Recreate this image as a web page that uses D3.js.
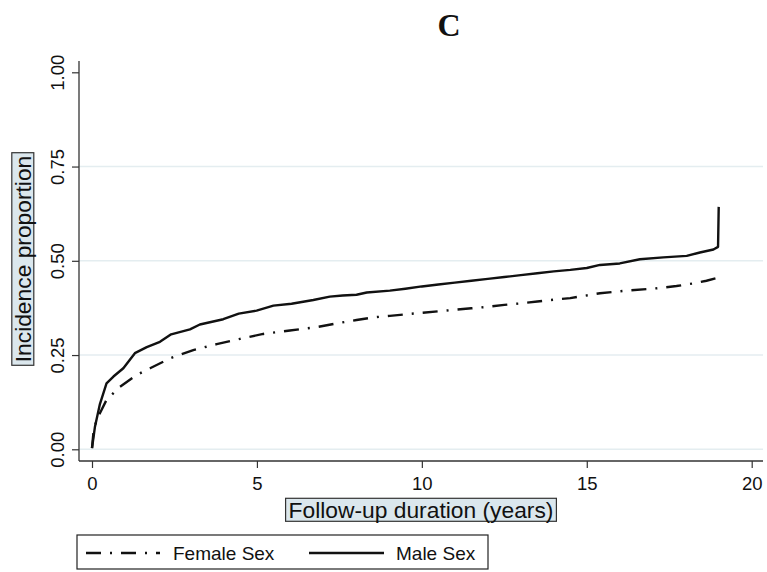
<!DOCTYPE html>
<html>
<head>
<meta charset="utf-8">
<script src="https://cdn.jsdelivr.net/npm/d3@7"></script>
<style>
  body { margin: 0; background: #fff; }
  svg { display: block; }
</style>
</head>
<body>
<svg id="chart" width="767" height="572"></svg>
<script>
// Cumulative incidence by sex over follow-up
const maleTime = [0, 0.09, 0.24, 0.44, 0.65, 0.95, 1.30, 1.66, 2.06, 2.40, 2.97, 3.27, 3.98, 4.45, 4.99, 5.5, 6.05, 6.71, 7.21, 7.6, 8.02, 8.33, 9.03, 9.5, 10, 10.5, 11, 11.5, 12, 12.5, 13, 13.5, 14, 14.5, 15, 15.4, 16.0, 16.61, 17.32, 18.03, 18.43, 18.84, 18.98, 19.0];
const maleValue = [0.003, 0.06, 0.12, 0.175, 0.193, 0.215, 0.255, 0.271, 0.285, 0.305, 0.318, 0.331, 0.345, 0.36, 0.368, 0.381, 0.386, 0.396, 0.405, 0.408, 0.41, 0.416, 0.421, 0.426, 0.432, 0.437, 0.442, 0.447, 0.452, 0.457, 0.462, 0.467, 0.472, 0.476, 0.481, 0.489, 0.493, 0.504, 0.509, 0.513, 0.522, 0.53, 0.537, 0.643];

const femaleTime = [0, 0.05, 0.14, 0.44, 0.85, 1.35, 1.76, 2.36, 3.07, 3.78, 4.49, 5.19, 6.0, 6.81, 7.42, 8.02, 8.53, 9.03, 9.5, 10, 10.5, 11, 11.5, 12, 12.5, 13, 13.5, 14, 14.5, 15.4, 16.21, 17.12, 17.72, 18.23, 18.63, 19.02];
const femaleValue = [0.003, 0.05, 0.078, 0.131, 0.166, 0.197, 0.215, 0.241, 0.263, 0.279, 0.293, 0.306, 0.315, 0.324, 0.334, 0.343, 0.35, 0.354, 0.358, 0.362, 0.366, 0.37, 0.374, 0.378, 0.383, 0.387, 0.392, 0.397, 0.401, 0.414, 0.421, 0.427, 0.433, 0.44, 0.447, 0.456];

const xTicks = [0, 5, 10, 15, 20];
const xTickLabels = ["0", "5", "10", "15", "20"];
const yTicks = [0, 0.25, 0.5, 0.75, 1];
const yTickLabels = ["0.00", "0.25", "0.50", "0.75", "1.00"];
const gridValues = [0, 0.25, 0.5, 0.75];
const seriesNames = ["Female Sex", "Male Sex"];
const panelLabel = "C";
const xTitle = "Follow-up duration (years)";
const yTitle = "Incidence proportion";

const svg = d3.select("#chart");
const SANS = "'Liberation Sans', Arial, sans-serif";
const INK = "#111";
const AXIS = "#333";

// plot region
const plot = { left: 79, right: 763, top: 61, bottom: 461 };
const x = d3.scaleLinear().domain([0, 20]).range([92, 751.7]);
const y = d3.scaleLinear().domain([0, 1]).range([449.3, 72.3]);

// panel letter
svg.append("text")
  .attr("x", 449).attr("y", 36)
  .attr("text-anchor", "middle")
  .attr("font-family", "'Liberation Serif', 'Times New Roman', serif")
  .attr("font-weight", "bold")
  .attr("font-size", 32)
  .attr("fill", INK)
  .text(panelLabel);

// horizontal grid
svg.append("g").selectAll("line").data(gridValues).join("line")
  .attr("x1", plot.left).attr("x2", plot.right)
  .attr("y1", d => y(d)).attr("y2", d => y(d))
  .attr("stroke", "#e4edf0").attr("stroke-width", 1.6);

// y axis
const yAxis = svg.append("g")
  .attr("transform", `translate(${plot.left},0)`)
  .call(d3.axisLeft(y).tickValues(yTicks).tickSize(7).tickFormat((d, i) => yTickLabels[i]));
yAxis.select(".domain").remove();
yAxis.selectAll(".tick line").attr("stroke", AXIS).attr("stroke-width", 1.2);
yAxis.selectAll(".tick text")
  .attr("x", null).attr("dy", null)
  .attr("transform", "translate(-15.5,0) rotate(-90)")
  .attr("text-anchor", "middle")
  .attr("font-family", SANS).attr("font-size", 18.5).attr("fill", INK);
svg.append("line")
  .attr("x1", plot.left).attr("x2", plot.left)
  .attr("y1", plot.top).attr("y2", plot.bottom)
  .attr("stroke", AXIS).attr("stroke-width", 1.3);

// x axis
const xAxis = svg.append("g")
  .attr("transform", `translate(0,${plot.bottom})`)
  .call(d3.axisBottom(x).tickValues(xTicks).tickSize(7).tickFormat((d, i) => xTickLabels[i]));
xAxis.select(".domain").remove();
xAxis.selectAll(".tick line").attr("stroke", AXIS).attr("stroke-width", 1.2);
xAxis.selectAll(".tick text")
  .attr("y", 29).attr("dy", null)
  .attr("font-family", SANS).attr("font-size", 18.5).attr("fill", INK);
svg.append("line")
  .attr("x1", plot.left).attr("x2", plot.right)
  .attr("y1", plot.bottom).attr("y2", plot.bottom)
  .attr("stroke", AXIS).attr("stroke-width", 1.3);

// boxed axis titles
function boxedTitle(cx, cy, label, rotate, h) {
  const g = svg.append("g").attr("transform", `translate(${cx},${cy}) rotate(${rotate})`);
  const rect = g.append("rect");
  const t = g.append("text")
    .attr("text-anchor", "middle")
    .attr("y", 7.8)
    .attr("font-family", SANS).attr("font-size", 22.8).attr("fill", INK)
    .text(label);
  const w = t.node().getComputedTextLength();
  rect.attr("x", -w / 2 - 3).attr("y", -h / 2).attr("width", w + 6).attr("height", h)
    .attr("fill", "#dbe7ed").attr("stroke", "#333").attr("stroke-width", 1.2);
}
boxedTitle((plot.left + plot.right) / 2, 509.8, xTitle, 0, 23);
boxedTitle(22.8, 259, yTitle, -90, 22);

// curves
const line = d3.line().x(d => x(d[0])).y(d => y(d[1]));
const femaleData = femaleTime.map((t, i) => [t, femaleValue[i]]);
const maleData = maleTime.map((t, i) => [t, maleValue[i]]);
const DASHDOT = "15 9 2 9";

svg.append("path").datum(femaleData)
  .attr("d", line).attr("fill", "none")
  .attr("stroke", INK).attr("stroke-width", 2.4)
  .attr("stroke-dasharray", DASHDOT);
svg.append("path").datum(maleData)
  .attr("d", line).attr("fill", "none")
  .attr("stroke", INK).attr("stroke-width", 2.4)
  .attr("stroke-linejoin", "round");

// legend
const legend = svg.append("g");
legend.append("rect")
  .attr("x", 77).attr("y", 535).attr("width", 411).attr("height", 34)
  .attr("fill", "#fff").attr("stroke", "#222").attr("stroke-width", 1.2);
const legendItems = [
  { name: seriesNames[0], x0: 86, x1: 160, tx: 173, dash: DASHDOT },
  { name: seriesNames[1], x0: 309, x1: 384, tx: 396, dash: null }
];
legendItems.forEach(it => {
  legend.append("line")
    .attr("x1", it.x0).attr("x2", it.x1).attr("y1", 553).attr("y2", 553)
    .attr("stroke", INK).attr("stroke-width", 2.4)
    .attr("stroke-dasharray", it.dash);
  legend.append("text")
    .attr("x", it.tx).attr("y", 560)
    .attr("font-family", SANS).attr("font-size", 19).attr("fill", INK)
    .text(it.name);
});
</script>
</body>
</html>
